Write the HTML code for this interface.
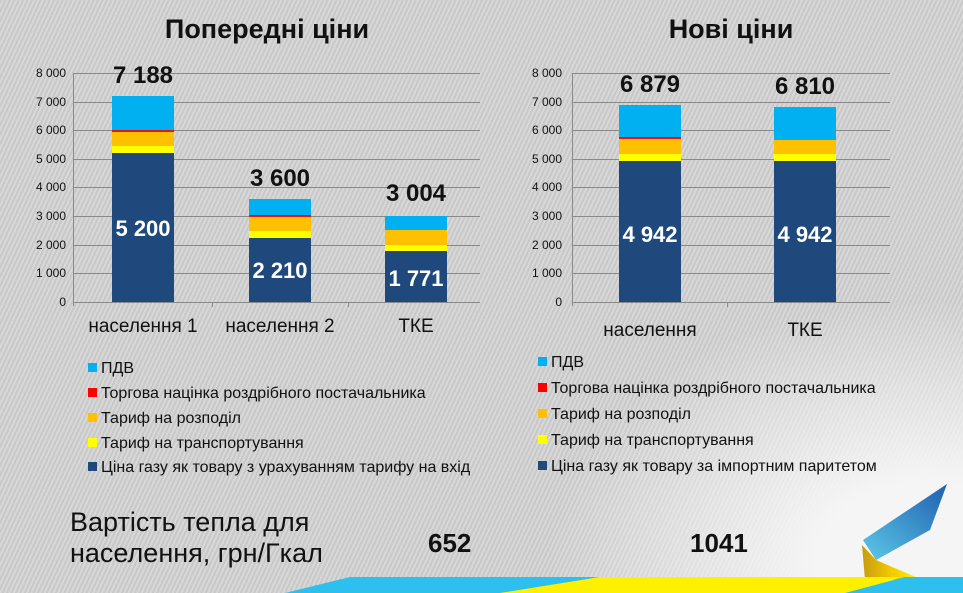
<!DOCTYPE html>
<html><head><meta charset="utf-8"><style>
body{margin:0}
#c{position:relative;width:963px;height:593px;overflow:hidden;font-family:"Liberation Sans",sans-serif;
background:repeating-linear-gradient(115deg,#c8c8c8 0px,#c8c8c8 2px,#d8d8d8 2px,#d8d8d8 4px);}
#fade{position:absolute;left:0;top:0;width:963px;height:593px;background:radial-gradient(ellipse 380px 260px at 930px 560px,rgba(245,245,245,1) 30%,rgba(240,240,240,0) 100%);}
svg{position:absolute;left:0;top:0}
</style></head><body><div id="c"><div id="fade"></div>
<svg width="963" height="593" font-family="Liberation Sans, sans-serif">
<g font-weight="bold" font-size="27" text-anchor="middle" fill="#111">
<text x="267" y="38">Попередні ціни</text><text x="731" y="38">Нові ціни</text></g>
<g stroke="#8a8a8a" stroke-width="1">
<line x1="73" y1="73.5" x2="480" y2="73.5"/><line x1="73" y1="102.5" x2="480" y2="102.5"/><line x1="73" y1="130.5" x2="480" y2="130.5"/><line x1="73" y1="159.5" x2="480" y2="159.5"/><line x1="73" y1="187.5" x2="480" y2="187.5"/><line x1="73" y1="216.5" x2="480" y2="216.5"/><line x1="73" y1="245.5" x2="480" y2="245.5"/><line x1="73" y1="273.5" x2="480" y2="273.5"/><line x1="73" y1="302.5" x2="480" y2="302.5"/>
<line x1="73.5" y1="73" x2="73.5" y2="306"/><line x1="212.5" y1="302" x2="212.5" y2="307"/><line x1="348.5" y1="302" x2="348.5" y2="307"/>
<line x1="572" y1="73.5" x2="890" y2="73.5"/><line x1="572" y1="102.5" x2="890" y2="102.5"/><line x1="572" y1="130.5" x2="890" y2="130.5"/><line x1="572" y1="159.5" x2="890" y2="159.5"/><line x1="572" y1="187.5" x2="890" y2="187.5"/><line x1="572" y1="216.5" x2="890" y2="216.5"/><line x1="572" y1="245.5" x2="890" y2="245.5"/><line x1="572" y1="273.5" x2="890" y2="273.5"/><line x1="572" y1="302.5" x2="890" y2="302.5"/>
<line x1="572.5" y1="73" x2="572.5" y2="306"/><line x1="727.5" y1="302" x2="727.5" y2="307"/>
</g>
<g font-size="12" fill="#111" text-anchor="end">
<text x="66" y="77">8 000</text><text x="66" y="106">7 000</text><text x="66" y="134">6 000</text><text x="66" y="163">5 000</text><text x="66" y="191">4 000</text><text x="66" y="220">3 000</text><text x="66" y="249">2 000</text><text x="66" y="277">1 000</text><text x="66" y="306">0</text>
<text x="562" y="77">8 000</text><text x="562" y="106">7 000</text><text x="562" y="134">6 000</text><text x="562" y="163">5 000</text><text x="562" y="191">4 000</text><text x="562" y="220">3 000</text><text x="562" y="249">2 000</text><text x="562" y="277">1 000</text><text x="562" y="306">0</text>
</g>
<g>
<rect x="112" y="96" width="62" height="36" fill="#00b0f0"/><rect x="112" y="130" width="62" height="2" fill="#e8141c"/><rect x="112" y="132" width="62" height="14" fill="#ffc000"/><rect x="112" y="146" width="62" height="7" fill="#ffff00"/><rect x="112" y="153" width="62" height="149" fill="#1f497d"/>
<rect x="249" y="199" width="62" height="17" fill="#00b0f0"/><rect x="249" y="215" width="62" height="2" fill="#e8141c"/><rect x="249" y="217" width="62" height="14" fill="#ffc000"/><rect x="249" y="231" width="62" height="7" fill="#ffff00"/><rect x="249" y="238" width="62" height="64" fill="#1f497d"/>
<rect x="385" y="216" width="62" height="14" fill="#00b0f0"/><rect x="385" y="230" width="62" height="15" fill="#ffc000"/><rect x="385" y="245" width="62" height="6" fill="#ffff00"/><rect x="385" y="251" width="62" height="51" fill="#1f497d"/>
<rect x="619" y="105" width="62" height="33" fill="#00b0f0"/><rect x="619" y="137" width="62" height="2" fill="#e8141c"/><rect x="619" y="139" width="62" height="15" fill="#ffc000"/><rect x="619" y="154" width="62" height="7" fill="#ffff00"/><rect x="619" y="161" width="62" height="141" fill="#1f497d"/>
<rect x="774" y="107" width="62" height="33" fill="#00b0f0"/><rect x="774" y="140" width="62" height="14" fill="#ffc000"/><rect x="774" y="154" width="62" height="7" fill="#ffff00"/><rect x="774" y="161" width="62" height="141" fill="#1f497d"/>
</g>
<g font-weight="bold" font-size="24" text-anchor="middle">
<text x="143" y="83" fill="#111">7 188</text><text x="280" y="186" fill="#111">3 600</text><text x="416" y="201" fill="#111">3 004</text>
<text x="650" y="92" fill="#111">6 879</text><text x="805" y="94" fill="#111">6 810</text>
</g>
<g font-weight="bold" font-size="22" text-anchor="middle" fill="#fff">
<text x="143" y="236">5 200</text><text x="280" y="278">2 210</text><text x="416" y="286">1 771</text>
<text x="650" y="242">4 942</text><text x="805" y="242">4 942</text>
</g>
<g font-size="19" fill="#111" text-anchor="middle">
<text x="143" y="332">населення 1</text><text x="280" y="332">населення 2</text><text x="416" y="332">ТКЕ</text>
<text x="650" y="336">населення</text><text x="805" y="336">ТКЕ</text>
</g>
<g font-size="16" fill="#111">
<rect x="88" y="363" width="9" height="9" fill="#00b0f0"/><text x="101" y="373">ПДВ</text>
<rect x="88" y="388" width="9" height="9" fill="#ff0000"/><text x="101" y="398">Торгова націнка роздрібного постачальника</text>
<rect x="88" y="413" width="9" height="9" fill="#ffc000"/><text x="101" y="423">Тариф на розподіл</text>
<rect x="88" y="438" width="9" height="9" fill="#ffff00"/><text x="101" y="448">Тариф на транспортування</text>
<rect x="88" y="462" width="9" height="9" fill="#1f497d"/><text x="101" y="472">Ціна газу як товару з урахуванням тарифу на вхід</text>
<rect x="538" y="357" width="9" height="9" fill="#00b0f0"/><text x="551" y="367">ПДВ</text>
<rect x="538" y="383" width="9" height="9" fill="#ff0000"/><text x="551" y="393">Торгова націнка роздрібного постачальника</text>
<rect x="538" y="409" width="9" height="9" fill="#ffc000"/><text x="551" y="419">Тариф на розподіл</text>
<rect x="538" y="435" width="9" height="9" fill="#ffff00"/><text x="551" y="445">Тариф на транспортування</text>
<rect x="538" y="461" width="9" height="9" fill="#1f497d"/><text x="551" y="471">Ціна газу як товару за імпортним паритетом</text>
</g>
<g font-size="27" fill="#111"><text x="70" y="531">Вартість тепла для</text><text x="70" y="562">населення, грн/Гкал</text></g>
<g font-size="26" font-weight="bold" fill="#111"><text x="428" y="552">652</text><text x="690" y="552">1041</text></g>
<defs><linearGradient id="bl" x1="0" y1="1" x2="1" y2="0"><stop offset="0" stop-color="#5cc8e8"/><stop offset="1" stop-color="#1f5fb0"/></linearGradient>
<linearGradient id="yl" x1="0" y1="0" x2="1" y2="0"><stop offset="0" stop-color="#c89a10"/><stop offset="0.5" stop-color="#f0c800"/><stop offset="1" stop-color="#fff200"/></linearGradient></defs>
<polygon points="863,540 947,484 930,530 876,560" fill="url(#bl)"/>
<polygon points="862,545 876,560 918,578 905,580 865,580" fill="url(#yl)"/>
<polygon points="285,593 350,577 600,577 520,593" fill="#2dbfee"/>
<polygon points="500,593 600,577 900,577 860,593" fill="#fff000"/>
<polygon points="845,593 905,577 963,577 963,593" fill="#2dbfee"/>
</svg></div></body></html>
